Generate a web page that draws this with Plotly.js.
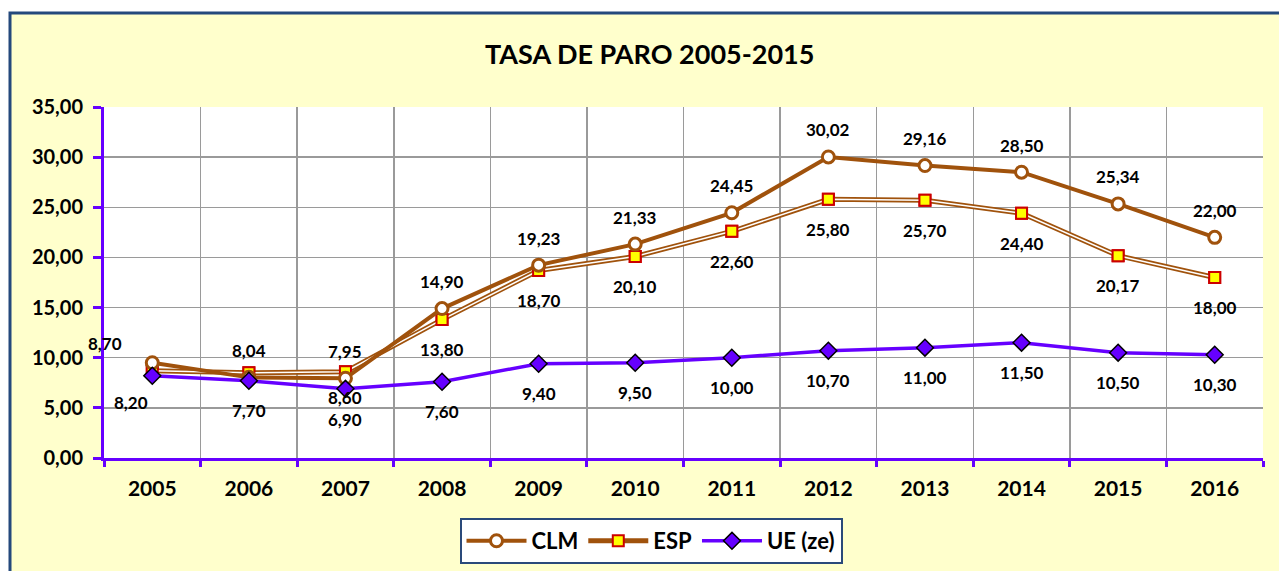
<!DOCTYPE html>
<html>
<head>
<meta charset="utf-8">
<script src="https://cdn.plot.ly/plotly-3.0.1.min.js"></script>
<style>html,body{margin:0;padding:0;background:#fff;}#chart{width:1279px;height:571px;}</style>
</head>
<body>
<div id="chart"></div>
<script>
const years = ['2005','2006','2007','2008','2009','2010','2011','2012','2013','2014','2015','2016'];
const clm = [9.50, 8.04, 7.95, 14.90, 19.23, 21.33, 24.45, 30.02, 29.16, 28.50, 25.34, 22.00];
const esp = [8.70, 8.50, 8.60, 13.80, 18.70, 20.10, 22.60, 25.80, 25.70, 24.40, 20.17, 18.00];
const ue  = [8.20, 7.70, 6.90, 7.60, 9.40, 9.50, 10.00, 10.70, 11.00, 11.50, 10.50, 10.30];
const yTicks = [0, 5, 10, 15, 20, 25, 30, 35];

const BROWN = '#a0520c';
const PURPLE = '#6600ff';
const FONT = 'Lato, "Open Sans", "DejaVu Sans", sans-serif';

const fmt = v => v.toFixed(2).replace('.', ',');

const traces = [
  {x: years, y: esp, name: 'ESP', mode: 'lines+markers', legendrank: 2,
   line: {color: BROWN, width: 5},
   marker: {symbol: 'square', size: 11, color: '#ffff00', line: {color: '#cc0000', width: 2}}},
  {x: years, y: esp, mode: 'lines', showlegend: false, hoverinfo: 'skip',
   line: {color: '#ffffff', width: 1.5}},
  {x: years, y: esp, mode: 'markers', showlegend: false,
   marker: {symbol: 'square', size: 11, color: '#ffff00', line: {color: '#cc0000', width: 2}}},
  {x: years, y: clm, name: 'CLM', mode: 'lines+markers', legendrank: 1,
   line: {color: BROWN, width: 4},
   marker: {symbol: 'circle', size: 12, color: '#ffffff', line: {color: BROWN, width: 3}}},
  {x: years, y: ue, name: 'UE (ze)', mode: 'lines+markers', legendrank: 3,
   line: {color: PURPLE, width: 3.5},
   marker: {symbol: 'diamond', size: 13, color: PURPLE, line: {color: '#000000', width: 1.5}}}
];

const annotations = [];
const lblFont = {family: FONT, size: 17, color: '#000', weight: 'bold'};
function addLabels(vals, yshift, skip, overrides) {
  vals.forEach((v, i) => {
    if (skip.includes(i)) return;
    const o = (overrides && overrides[i]) || {};
    annotations.push({x: i, y: v, xref: 'x', yref: 'y', text: fmt(v),
      showarrow: false, yshift: o.yshift !== undefined ? o.yshift : yshift,
      xshift: o.xshift || 0, font: lblFont});
  });
}
addLabels(clm, 27, [0]);
addLabels(esp, -30, [1], {0: {yshift: 27, xshift: -47}, 2: {yshift: -26}});
addLabels(ue, -30, [], {0: {yshift: -27, xshift: -21}, 2: {yshift: -31}});

const layout = {
  width: 1279, height: 571,
  margin: {l: 104, r: 16, t: 107, b: 113},
  paper_bgcolor: '#ffffff',
  plot_bgcolor: '#ffffff',
  separators: ',.',
  font: {family: FONT, color: '#000'},
  title: {text: 'TASA DE PARO 2005-2015', font: {family: FONT, size: 27, weight: 'bold', color: '#000'},
    xref: 'container', x: 0.508, xanchor: 'center', yref: 'container', y: 1 - 55/571, yanchor: 'middle'},
  xaxis: {type: 'category', range: [-0.5, 11.5], tickson: 'boundaries',
    showline: true, linecolor: PURPLE, linewidth: 3,
    ticks: 'outside', ticklen: 6, tickwidth: 3, tickcolor: PURPLE,
    showgrid: true, gridcolor: '#9a9a9a', gridwidth: 1.5,
    tickfont: {family: FONT, size: 21, weight: 'bold', color: '#000'}, ticklabelstandoff: 10,
    fixedrange: true},
  yaxis: {range: [0, 35], tickvals: yTicks, tickformat: '.2f',
    showline: true, linecolor: PURPLE, linewidth: 3,
    ticks: 'outside', ticklen: 8, tickwidth: 3, tickcolor: PURPLE,
    showgrid: true, gridcolor: '#9a9a9a', gridwidth: 1.5, zeroline: false,
    tickfont: {family: FONT, size: 20, weight: 'bold', color: '#000'}, ticklabelstandoff: 6,
    fixedrange: true},
  legend: {orientation: 'h', xref: 'container', yref: 'container', x: 651/1279, xanchor: 'center',
    y: 1 - 541/571, yanchor: 'middle', bgcolor: '#ffffff', bordercolor: '#2a4a7a', borderwidth: 2,
    font: {family: FONT, size: 22, weight: 'bold', color: '#000'}, itemwidth: 60, traceorder: 'normal'},
  shapes: [
    {type: 'rect', xref: 'paper', yref: 'paper', layer: 'below',
     x0: (10-104)/1159, x1: (1290-104)/1159, y0: (458-580)/351, y1: (458-13)/351,
     fillcolor: '#ffffcc', line: {color: '#24497c', width: 3}},
    {type: 'rect', xref: 'x domain', yref: 'y domain', layer: 'below',
     x0: 0, x1: 1, y0: 0, y1: 1, fillcolor: '#ffffff', line: {width: 0}}
  ],
  annotations: annotations,
  showlegend: true
};

Plotly.newPlot('chart', traces, layout, {displayModeBar: false, staticPlot: true});
</script>
</body>
</html>
